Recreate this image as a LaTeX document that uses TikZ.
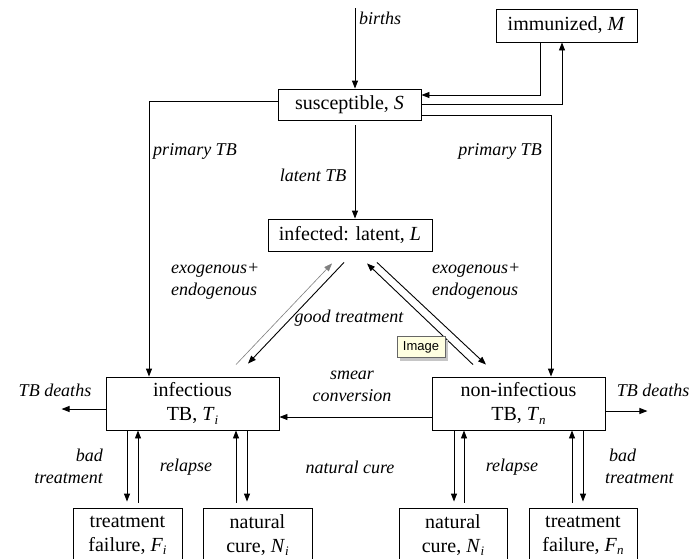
\documentclass[tikz,border=0pt]{standalone}
\usepackage{fontspec}
\setmainfont{Liberation Serif}
\newfontfamily\tipfont{Liberation Sans}
\usetikzlibrary{arrows.meta,calc}
\newcommand\mysub[1]{\raisebox{-0.35ex}{\fontsize{13}{13}\selectfont\textit{#1}}}
\begin{document}
\begin{tikzpicture}[x=1pt,y=-1pt,
  box/.style={draw,line width=0.9pt,inner sep=0pt,align=center,font=\fontsize{20}{24}\selectfont},
  lbl/.style={inner sep=0pt,font=\fontsize{18}{22}\selectfont\itshape},
  arr/.style={line width=0.9pt,-{Triangle[length=8pt,width=6pt]}},
  ln/.style={line width=0.9pt}]
\useasboundingbox[fill=white] (0,0) rectangle (694,558);
% boxes
\node[box,minimum width=141pt,minimum height=33pt] (M) at (566.5,25.5) {immunized, \textit{M}};
\node[box,minimum width=143pt,minimum height=31pt] (S) at (349.5,104.5) {susceptible, \textit{S}};
\node[box,minimum width=164pt,minimum height=32pt] (L) at (350,235) {infected: latent, \textit{L}};
\node[box,minimum width=173pt,minimum height=53pt] (Ti) at (192.5,403.5) {infectious\\TB, \textit{T}\mysub{i}};
\node[box,minimum width=173pt,minimum height=53pt] (Tn) at (518.5,403.5) {non-infectious\\TB, \textit{T}\mysub{n}};
\node[box,minimum width=109pt,minimum height=54pt] (Fi) at (127.5,535) {treatment\\failure, \textit{F}\mysub{i}};
\node[box,minimum width=109pt,minimum height=54pt] (Ni) at (257.5,535) {natural\\cure, \textit{N}\mysub{i}};
\node[box,minimum width=108pt,minimum height=54pt] (Nn) at (453,535) {natural\\cure, \textit{N}\mysub{i}};
\node[box,minimum width=108pt,minimum height=54pt] (Fn) at (583,535) {treatment\\failure, \textit{F}\mysub{n}};
% top connectors
\coordinate (b0) at (355,8);
\draw[arr] (b0) -- (b0 |- S.north);
\node[lbl,anchor=west] (births) at (359,18) {births};
\draw[arr] ([xshift=-26.5pt]M.south) |- ([yshift=9.5pt]S.east);
\draw[arr] ([yshift=0.5pt]S.east) -| ([xshift=-4.5pt]M.south);
\draw[arr] ([yshift=3.5pt]S.west) -| ([xshift=-43.5pt]Ti.north);
\draw[arr] ([yshift=-10.5pt]S.east) -| ([xshift=32.5pt]Tn.north);
\draw[arr] ([xshift=5.5pt,yshift=-5pt]S.south) -- ([xshift=5pt]L.north);
\node[lbl] at (195,151) {primary TB};
\node[lbl] at (500,151) {primary TB};
\node[lbl] at (313,175) {latent TB};
% L <-> T
\draw[arr,draw=gray,line width=0.6pt] ($(Ti.north)+(43.5,-12)$) -- ($(L.south)+(-18,12)$);
\draw[arr] ($(L.south)+(-6,11)$) -- ($(Ti.north)+(55.5,-13)$);
\draw[arr] ($(Tn.north)+(-45.5,-12)$) -- ($(L.south)+(17,12)$);
\draw[arr] ($(L.south)+(27,11)$) -- ($(Tn.north)+(-32.5,-12)$);
\node[lbl,anchor=west,align=left] at (171,281) {exogenous+\\endogenous};
\node[lbl,anchor=west,align=left] at (432,281) {exogenous+\\endogenous};
\node[lbl] at (349,318) {good treatment};
% tooltip
\fill[gray!45] (400,340) rectangle (448,361);
\node[draw=gray!80!black,fill={rgb,255:red,255;green,255;blue,225},line width=0.6pt,minimum width=48pt,minimum height=21pt,inner sep=0pt,font=\tipfont\fontsize{13}{13}\selectfont] (tip) at (421,347) {Image};
% middle
\draw[arr] ([yshift=-13.5pt]Tn.west) -- ([yshift=-13.5pt]Ti.east);
\node[lbl,align=center] at (352,386) {smear\\conversion};
\draw[arr] ([yshift=-5.5pt]Ti.west) -- ++(-44,0);
\draw[arr] ([yshift=-7.5pt]Tn.east) -- ++(42,0);
\node[lbl] at (55,390) {TB deaths};
\node[lbl] at (653,390) {TB deaths};
% bottom arrows
\draw[arr] (127,0 |- Ti.south) -- ($(127,0 |- Fi.north)+(0,-6)$);
\draw[arr] ($(138,0 |- Fi.north)+(0,-5)$) -- (138,0 |- Ti.south);
\draw[arr] ($(236,0 |- Ni.north)+(0,-5)$) -- (236,0 |- Ti.south);
\draw[arr] (247,0 |- Ti.south) -- ($(247,0 |- Ni.north)+(0,-6)$);
\draw[arr] (454,0 |- Tn.south) -- ($(454,0 |- Nn.north)+(0,-6)$);
\draw[arr] ($(464,0 |- Nn.north)+(0,-5)$) -- (464,0 |- Tn.south);
\draw[arr] ($(572,0 |- Fn.north)+(0,-5)$) -- (572,0 |- Tn.south);
\draw[arr] (583,0 |- Tn.south) -- ($(583,0 |- Fn.north)+(0,-6)$);
\node[lbl,anchor=east,align=right] at (103,466) {bad\\treatment};
\node[lbl] at (186,467) {relapse};
\node[lbl] at (350,467) {natural cure};
\node[lbl] at (512,467) {relapse};
\node[lbl,anchor=west,align=left] at (605,466) {\hspace*{4pt}bad\\treatment};
\end{tikzpicture}
\end{document}
